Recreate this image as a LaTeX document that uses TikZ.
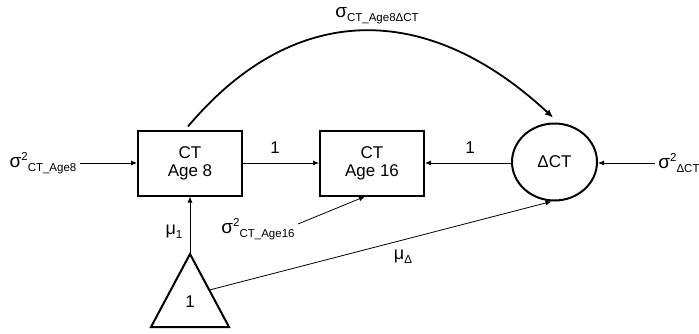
\documentclass[tikz,border=0pt]{standalone}
\usepackage{fontspec}
\setmainfont{Liberation Sans}
\usetikzlibrary{arrows.meta,shapes.geometric}
\newcommand\lowtx[1]{\raisebox{-4pt}{\fontsize{11.5}{13}\selectfont #1}}
\newcommand\hightx[1]{\raisebox{6.5pt}{\fontsize{11.5}{13}\selectfont #1}}
\newcommand\sig{{\fontsize{19}{21}\selectfont σ}}
\newcommand\mug{{\fontsize{18}{21}\selectfont μ}}
\begin{document}
\begin{tikzpicture}[x=1pt,y=1pt,
  every node/.style={font=\fontsize{17}{19}\selectfont},
  boxnode/.style={draw, line width=2pt, minimum width=104pt, minimum height=65pt, inner sep=0pt, align=center},
  latnode/.style={draw, ellipse, line width=2pt, minimum width=85pt, minimum height=77pt, inner sep=0pt},
  lbl/.style={inner sep=1pt},
  thinarrow/.style={line width=0.8pt, -{Latex[length=6pt,width=5pt]}},
  covarrow/.style={line width=1.8pt, -{Latex[length=8pt,width=7pt]}}
]
\useasboundingbox (0,0) rectangle (699,333);

% nodes
\node[boxnode] (b1) at (190,170) {CT\\[-1pt]Age 8};
\node[boxnode] (b2) at (372,170) {CT\\[-1pt]Age 16};
\node[latnode] (dc) at (554.5,171) {ΔCT};

% triangle
\coordinate (ta) at (190,79);
\coordinate (tl) at (151,6);
\coordinate (tr) at (229,6);
\draw[line width=2pt, line join=miter] (ta) -- (tr) -- (tl) -- cycle;
\node (tri) at (190,31) {1};
\coordinate (ts) at (209.5,43);

% labels
\node[lbl] (lage8) at (43,170) {\sig\hightx{2}\lowtx{CT\_Age8}};
\coordinate (lage8e) at (80,170);
\node[lbl] (ldct) at (679,170) {\sig\hightx{2}\lowtx{ΔCT}};
\coordinate (ldcte) at (655,170);
\node[lbl] (lage16) at (258,104) {\sig\hightx{2}\lowtx{CT\_Age16}};
\coordinate (lage16e) at (298,109);
\node[lbl] (lcov) at (377,317) {\sig\lowtx{CT\_Age8ΔCT}};
\node[lbl] (lmu1) at (174,101) {\mug\lowtx{1}};
\node[lbl] (lmud) at (403,76) {\mug\lowtx{Δ}};
\node[lbl] (l1a) at (275,185) {1};
\node[lbl] (l1b) at (470,185) {1};

% connectors
\draw[thinarrow] (lage8e) -- (b1.west);
\draw[thinarrow] (b1.east) -- (b2.west);
\draw[thinarrow] (dc.west |- b2.east) -- (b2.east);
\draw[thinarrow] (ldcte) -- (dc.east |- ldcte);
\draw[thinarrow] (ta) -- (b1.south);
\draw[thinarrow] (lage16e) -- ([xshift=-7pt]b2.south);
\draw[thinarrow] (ts) -- ([xshift=-3pt]dc.south);
\draw[covarrow] ([shift={(-2,3)}]b1.north) .. controls (294,332.5) and (427,332.5) .. ([shift={(-1.5,5)}]dc.north);
\end{tikzpicture}
\end{document}
